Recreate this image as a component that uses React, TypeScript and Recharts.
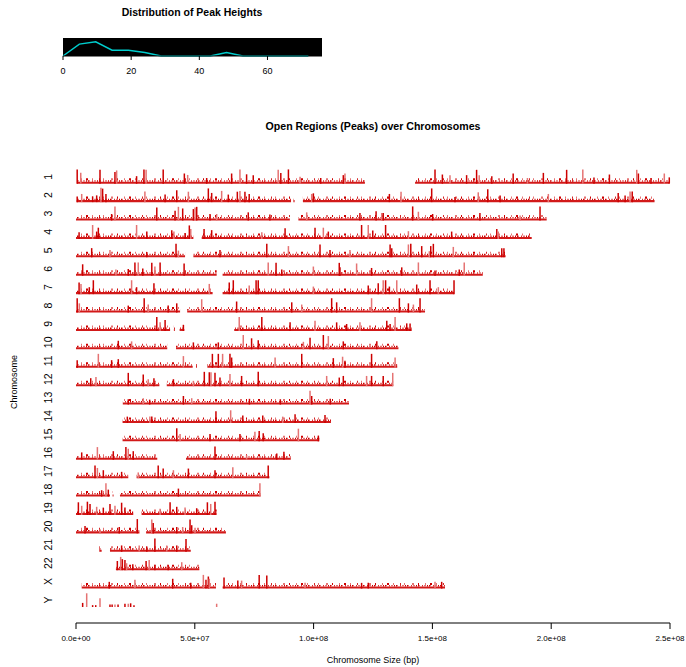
import { ComposedChart, LineChart, Line, XAxis, YAxis, ReferenceLine, ReferenceArea, CartesianGrid } from 'recharts'

const chromosomes = ['1', '2', '3', '4', '5', '6', '7', '8', '9', '10', '11', '12', '13', '14', '15', '16', '17', '18', '19', '20', '21', '22', 'X', 'Y']

// covered stretches per chromosome, in Mb
const segmentsMb: number[][][] = [
  [[0.4, 121.6], [142.7, 249.6]],
  [[0.3, 90.5], [91.5, 92], [95.5, 243.5]],
  [[0, 90], [93.6, 198.1]],
  [[0, 49.4], [52.9, 191.8]],
  [[0, 45.9], [49.4, 180.8]],
  [[0, 59.2], [61.7, 171.2]],
  [[0, 57.5], [61.7, 159.1]],
  [[0, 43.8], [46.8, 146.9]],
  [[0, 39.6], [41.2, 41.6], [43.6, 45.6], [66.6, 141.3]],
  [[0, 38.4], [42.1, 135.7]],
  [[0, 49.1], [50.5, 50.9], [55.3, 135.2]],
  [[0, 35.1], [38.2, 133.5]],
  [[19.7, 114.9]],
  [[19.6, 107.3]],
  [[19.6, 102.4]],
  [[0, 34.2], [46.3, 90.4]],
  [[0, 22], [25.5, 81.4]],
  [[0, 14.3], [15.4, 15.8], [18.5, 77.7]],
  [[0, 24.1], [27.6, 59.2]],
  [[0, 26.7], [29.5, 63.1]],
  [[9.8, 10.8], [14.3, 48.3]],
  [[16.8, 51.9]],
  [[2.4, 58.9], [61.7, 155.3]],
  [],
]

// visible peaks per chromosome: [position Mb, peak height]
const peaksMb: number[][][] = [
  [[0.5, 70], [2, 54], [10.1, 68], [16.4, 57], [17.1, 65], [25.5, 37], [28.6, 70], [29.5, 68], [36.7, 70], [45.6, 50], [47, 43], [55, 28], [65.5, 50], [69, 70], [71.8, 46], [74.6, 42], [85.1, 68], [86.2, 53], [89.4, 70], [94.3, 34], [103, 28], [112.5, 42], [113.2, 50], [151.1, 70], [154.2, 45], [157.4, 42], [164.4, 42], [168.6, 68], [169.7, 42], [175, 37], [184, 50], [190, 28], [196.7, 53], [206.5, 68], [213.3, 70], [218, 30], [224.5, 45], [236, 68], [236.7, 50], [242, 28], [247.6, 50], [249.7, 31]],
  [[0.5, 28], [2.4, 40], [7, 28], [8.7, 33], [10.5, 70], [11.2, 66], [12.6, 40], [29, 52], [37.5, 37], [42.4, 58], [47.3, 51], [55.7, 67], [57.1, 45], [61.3, 55], [64.1, 37], [67.9, 51], [69, 55], [71.1, 51], [72.9, 40], [99.2, 40], [99.9, 43], [131.9, 40], [136.8, 51], [149.7, 67], [159.5, 25], [169.3, 48], [173.3, 63], [178.5, 33], [198.8, 40], [228.2, 45], [231.1, 33], [233.2, 52], [234.1, 52]],
  [[15, 32], [16.4, 69], [34, 64], [41.7, 48], [43.1, 67], [44.9, 59], [49.4, 56], [50.1, 64], [50.8, 67], [56.4, 32], [59.2, 32], [72.5, 40], [81.6, 29], [97.1, 40], [119.5, 37], [126.3, 45], [128.7, 37], [129.3, 37], [141.7, 69], [144.1, 43], [150.1, 32], [170, 37], [186.9, 24], [195.3, 69]],
  [[1.3, 33], [7, 68], [8.7, 36], [9.4, 55], [25.5, 68], [29.8, 36], [40.3, 43], [41.2, 36], [45.9, 29], [47.7, 66], [48.3, 48], [53.9, 48], [57.1, 43], [78.2, 33], [88, 52], [100.6, 55], [104.1, 55], [106.2, 36], [120.2, 68], [123, 68], [124.9, 41], [130.3, 68], [139.9, 38], [158.1, 36], [177.1, 48], [177.7, 36]],
  [[6.6, 45], [14.3, 36], [29.8, 26], [42.1, 66], [43.1, 33], [60.6, 36], [80.3, 66], [89.4, 55], [102.7, 63], [106.9, 36], [115.3, 36], [132.2, 63], [132.9, 45], [139.9, 63], [140.9, 66], [145.5, 55], [148.7, 30], [149.3, 55], [150.4, 66], [158.8, 51], [179.2, 45], [180.1, 45]],
  [[2.8, 56], [16.8, 30], [22, 33], [24.8, 65], [26.2, 65], [28.1, 35], [31.9, 63], [33.2, 45], [35.4, 65], [45.5, 60], [80.9, 65], [84.2, 63], [86.6, 30], [99.9, 45], [110.8, 63], [111.1, 41], [118.1, 60], [124.4, 38], [137.1, 41], [144.1, 65], [151.1, 26], [161.3, 30], [163.4, 65]],
  [[1.3, 57], [2.1, 50], [5.6, 34], [7.3, 68], [23.4, 68], [25.5, 34], [32.8, 53], [56.1, 50], [64.5, 57], [66.2, 68], [72.9, 42], [75.8, 68], [76.7, 68], [99.9, 37], [123, 42], [127.2, 53], [129.3, 68], [130.3, 68], [131.9, 37], [135, 68], [143.4, 47], [149, 68], [152.5, 34], [159.1, 68]],
  [[0.5, 70], [1.4, 45], [22, 34], [28.7, 70], [30.4, 39], [38.8, 34], [42.4, 45], [52.9, 65], [67.6, 54], [90.8, 50], [95, 39], [107.6, 70], [109.7, 50], [124.4, 70], [136.1, 70], [139.9, 45], [142, 39], [144.8, 70]],
  [[34, 68], [35.4, 42], [37.5, 53], [45.2, 30], [68.7, 68], [78.2, 68], [90.1, 42], [100.6, 50], [109.7, 42], [113.9, 34], [119.5, 42], [130.8, 50], [132.2, 34], [134.3, 68], [139.2, 37], [140.6, 37]],
  [[17.8, 42], [23.4, 39], [49.4, 34], [59.9, 34], [70.4, 70], [73.9, 54], [76.7, 45], [95.7, 37], [98.5, 57], [104.1, 70], [106.2, 65], [112.5, 39], [126.6, 39]],
  [[0.5, 37], [9.4, 68], [15, 37], [17.8, 42], [45.2, 57], [57.4, 68], [59.9, 68], [61.7, 68], [64.8, 68], [65.5, 50], [83.8, 50], [95, 68], [108.3, 47], [112.2, 54], [113.2, 34], [124.4, 68], [134.3, 50]],
  [[6.2, 39], [8.4, 45], [22, 65], [28.3, 57], [30.4, 34], [32.8, 39], [41, 34], [49.4, 26], [54, 70], [56.1, 68], [56.8, 68], [58.5, 65], [60.6, 42], [64.8, 60], [69.7, 50], [76.7, 70], [105.5, 50], [110.8, 42], [112.5, 50], [122.3, 50], [124.4, 50], [129.3, 50], [133.3, 65]],
  [[22, 26], [28.3, 31], [31, 24], [45.2, 42], [48.7, 31], [73, 28], [86, 26], [98.5, 68], [99.2, 42], [107, 28]],
  [[21.6, 31], [31.1, 31], [31.9, 31], [58.9, 57], [65.1, 62], [70.2, 36], [78.6, 36], [87, 31], [92.2, 42], [104.8, 39]],
  [[42.4, 64], [43.8, 36], [56.4, 36], [69, 36], [75.3, 47], [77.1, 51], [78.8, 40], [93.6, 62], [102, 28]],
  [[2.4, 36], [9, 62], [15.7, 42], [21, 62], [22, 54], [24.1, 42], [58.5, 65], [71.8, 23], [84.5, 31], [87.5, 39]],
  [[8, 62], [9, 50], [11.5, 39], [19.2, 31], [26.2, 28], [34.6, 62], [36.7, 47], [41, 39], [47.3, 47], [58.5, 39], [66, 54], [80.9, 62]],
  [[10.8, 31], [12.6, 65], [13.6, 34], [43.1, 39], [77.4, 65]],
  [[1, 62], [2.4, 45], [4.8, 65], [5.9, 54], [8.7, 40], [11.5, 36], [14.3, 54], [16.4, 45], [19.2, 60], [20.6, 36], [35.4, 31], [39.6, 62], [42.4, 40], [45.9, 36], [50.8, 33], [55.3, 62], [56.7, 54], [58.5, 65]],
  [[3.8, 36], [10.1, 20], [18.2, 31], [25.8, 70], [31.9, 68], [32.5, 51], [42.4, 31], [44.9, 31], [48, 68], [48.7, 40], [50.1, 28]],
  [[19.2, 31], [26.6, 31], [29.8, 26], [33.2, 65], [38.2, 31], [42.4, 31], [46.3, 62]],
  [[17.4, 45], [18.8, 65], [19.5, 54], [20.6, 50], [21.3, 34], [23.9, 29], [29.5, 45], [30.8, 50], [33.2, 26], [38.8, 26], [44.5, 39]],
  [[14, 33], [24.8, 43], [40.7, 48], [48.3, 28], [53.6, 67], [54.7, 43], [55.7, 59], [56.1, 48], [62.3, 54], [68.1, 39], [69.7, 39], [77.1, 67], [80.3, 64], [96.4, 28], [120.2, 28], [123, 28], [151.1, 33], [153.9, 33]],
  [[2.8, 20], [4.5, 67], [7, 9], [8.3, 9], [10.1, 43], [14.3, 12], [15.2, 12], [16.4, 12], [17.7, 12], [20.6, 16], [22, 16], [23, 18], [24.4, 9], [59.2, 16]],
]

const heightBins = [0, 4.8, 9.6, 14.4, 19.2, 24, 28.8, 33.6, 38.4, 43.2, 48, 52.8, 57.6, 62.4, 67.2, 72]
const heightDensity = [0, 0.66, 0.79, 0.32, 0.32, 0.19, 0, 0, 0, 0, 0.19, 0, 0, 0, 0, 0]
const heightTicks = [0, 20, 40, 60]
const sizeTicks = [0, 5e7, 1e8, 1.5e8, 2e8, 2.5e8]

const MAX_H = 72
const ROW_SPAN = 0.8
const DARK = '#CD0000'
const LIGHT = '#E57373'
const FONT = '"Liberation Sans", Arial, Helvetica, sans-serif'

const sci = (v: number) => v.toExponential(1).replace(/e([+-])(\d)$/, 'e$10$2')

function ChromTick({ x, y, payload }: any) {
  return (
    <text
      transform={`translate(${x - 20},${y - 7}) rotate(-90)`}
      textAnchor="middle"
      dominantBaseline="central"
      fontSize={10.5}
      fontFamily={FONT}
      fill="#000"
    >
      {chromosomes[payload.value]}
    </text>
  )
}

export default function App() {
  const densityData = heightBins.map((h, i) => ({ h, d: heightDensity[i] }))
  const rows = chromosomes.map((_, i) => i)

  // baseline texture bands: [bottom offset, top offset, fill]
  const bands: [number, number, string][] = [
    [0, 0.11, DARK],
    [0.11, 0.19, 'url(#texMid)'],
    [0.19, 0.3, 'url(#texTop)'],
  ]

  return (
    <div style={{ position: 'absolute', left: 0, top: 0, width: 686, height: 667, background: '#fff', fontFamily: FONT }}>
      <div style={{ position: 'absolute', left: 0, width: 384, top: 6, textAlign: 'center', fontSize: 10.5, fontWeight: 'bold' }}>
        Distribution of Peak Heights
      </div>
      <div style={{ position: 'absolute', left: 0, top: 0 }}>
        <LineChart width={686} height={82} data={densityData} margin={{ top: 38, right: 364, bottom: 0, left: 63 }}>
          <CartesianGrid fill="#000" horizontal={false} vertical={false} />
          <XAxis
            dataKey="h"
            type="number"
            domain={[0, 76]}
            ticks={heightTicks}
            tickSize={4}
            tickMargin={8}
            height={26}
            stroke="#000"
            tick={{ fontSize: 9, fill: '#000', fontFamily: FONT }}
          />
          <YAxis hide domain={[0, 1]} />
          <Line dataKey="d" type="linear" stroke="#00CDCD" strokeWidth={1.5} dot={false} isAnimationActive={false} />
        </LineChart>
      </div>

      <div style={{ position: 'absolute', left: 0, width: 746, top: 120, textAlign: 'center', fontSize: 10.6, fontWeight: 'bold' }}>
        Open Regions (Peaks) over Chromosomes
      </div>
      <div style={{ position: 'absolute', left: 0, width: 746, top: 655, textAlign: 'center', fontSize: 9 }}>
        Chromosome Size (bp)
      </div>
      <div
        style={{
          position: 'absolute',
          left: 14,
          top: 382,
          fontSize: 9,
          transform: 'translate(-50%, -50%) rotate(-90deg)',
          whiteSpace: 'nowrap',
        }}
      >
        Chromosome
      </div>

      <div style={{ position: 'absolute', left: 0, top: 0 }}>
        <ComposedChart width={686} height={667} margin={{ top: 169, right: 16, bottom: 0, left: 0 }}>
          <defs>
            <pattern id="texMid" patternUnits="userSpaceOnUse" width={11} height={4}>
              <rect x={0} y={0} width={1} height={4} fill={DARK} />
              <rect x={1} y={0} width={1} height={4} fill={LIGHT} />
              <rect x={4} y={0} width={1} height={4} fill={DARK} fillOpacity={0.8} />
              <rect x={6} y={0} width={2} height={4} fill={LIGHT} />
              <rect x={9} y={0} width={1} height={4} fill={DARK} />
            </pattern>
            <pattern id="texTop" patternUnits="userSpaceOnUse" width={43} height={4}>
              <rect x={0} y={0} width={2} height={4} fill={DARK} />
              <rect x={6} y={0} width={1} height={4} fill={LIGHT} />
              <rect x={13} y={0} width={1} height={4} fill={DARK} fillOpacity={0.85} />
              <rect x={17} y={0} width={1} height={4} fill={LIGHT} />
              <rect x={25} y={0} width={2} height={4} fill={LIGHT} />
              <rect x={31} y={0} width={1} height={4} fill={DARK} />
              <rect x={38} y={0} width={1} height={4} fill={LIGHT} />
            </pattern>
          </defs>
          <XAxis
            type="number"
            dataKey="x"
            domain={[0, 2.5e8]}
            ticks={sizeTicks}
            tickFormatter={sci}
            allowDataOverflow
            height={44}
            tickSize={6}
            tickMargin={6}
            stroke="#000"
            tick={{ fontSize: 8, fill: '#000', fontFamily: FONT }}
          />
          <YAxis
            type="number"
            dataKey="y"
            domain={[-0.8, 23.87]}
            reversed
            allowDataOverflow
            ticks={rows}
            interval={0}
            width={76}
            axisLine={false}
            tickLine={false}
            tick={<ChromTick />}
          />
          {segmentsMb.flatMap((segs, row) =>
            segs.flatMap(([a, b], k) =>
              bands.map(([lo, hi, fill], j) => (
                <ReferenceArea
                  key={`s${row}-${k}-${j}`}
                  x1={a * 1e6}
                  x2={b * 1e6}
                  y1={row - lo}
                  y2={row - hi}
                  fill={fill}
                  fillOpacity={j === 0 ? 0.9 : 1}
                  stroke="none"
                  ifOverflow="visible"
                />
              ))
            )
          )}
          {peaksMb.flatMap((list, row) =>
            list.map(([pos, h], k) => (
              <ReferenceLine
                key={`p${row}-${k}`}
                segment={[
                  { x: pos * 1e6, y: row },
                  { x: pos * 1e6, y: row - (h / MAX_H) * ROW_SPAN },
                ]}
                stroke={k % 3 === 1 ? LIGHT : DARK}
                strokeWidth={1.5}
                ifOverflow="visible"
              />
            ))
          )}
        </ComposedChart>
      </div>
    </div>
  )
}
